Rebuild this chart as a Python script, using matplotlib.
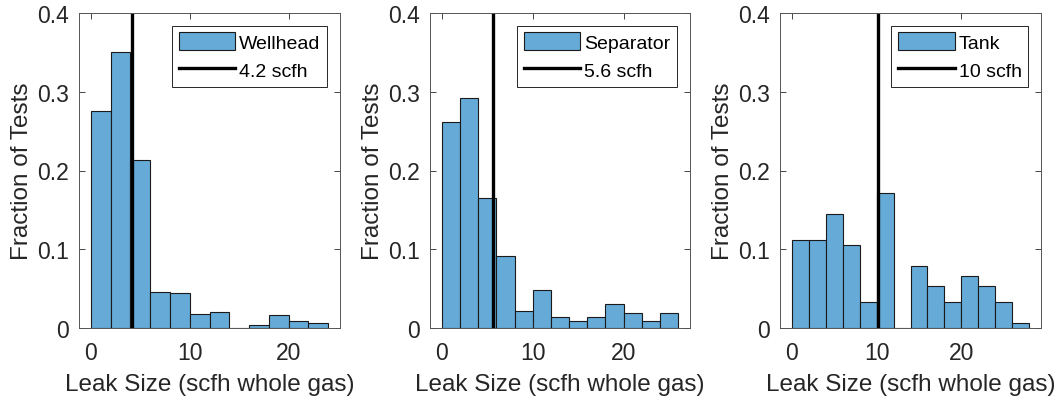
import matplotlib
matplotlib.use('Agg')
import matplotlib.pyplot as plt
import numpy as np
from matplotlib.ticker import FuncFormatter

plt.rcParams['font.family'] = ['Liberation Sans', 'DejaVu Sans']

# histogram data (fraction of tests per 2 scfh bin, edges start at 0)
bin_width = 2
wellhead = [0.275, 0.351, 0.213, 0.046, 0.044, 0.018, 0.020, 0.0, 0.0034, 0.016, 0.0085, 0.006]
separator = [0.262, 0.2925, 0.1655, 0.092, 0.022, 0.048, 0.0144, 0.0093, 0.0144, 0.030, 0.019, 0.0093, 0.019]
tank = [0.1117, 0.1117, 0.1443, 0.105, 0.0326, 0.171, 0.0, 0.0787, 0.0529, 0.0326, 0.0656, 0.0529, 0.0326, 0.0068]

names = ['Wellhead', 'Separator', 'Tank']
thresholds = [4.2, 5.6, 10.2]
threshold_labels = ['4.2 scfh', '5.6 scfh', '10 scfh']
all_data = [wellhead, separator, tank]

bar_color = '#66aad7'
text_color = '#262626'

fig = plt.figure(figsize=(10.6, 4.02), dpi=100)
lefts = [79, 430, 780]
rights = [340, 690, 1041]

for i in range(3):
    l = lefts[i] / 1060
    w = (rights[i] - lefts[i]) / 1060
    ax = fig.add_axes([l, (402 - 329) / 402, w, (329 - 14) / 402])
    vals = np.array(all_data[i])
    edges = np.arange(len(vals)) * bin_width
    bars = ax.bar(edges, vals, width=bin_width, align='edge', color=bar_color,
                  edgecolor='#1a1a1a', linewidth=0.8)
    line = ax.axvline(thresholds[i], color='black', linewidth=2.4)

    ax.set_ylim(0, 0.4)
    ax.set_yticks([0, 0.1, 0.2, 0.3, 0.4])
    ax.set_xticks([0, 10, 20])
    ax.yaxis.set_major_formatter(FuncFormatter(lambda v, p: '%g' % round(v, 2)))
    ax.tick_params(direction='in', top=True, right=True, labelsize=16.5,
                   colors=text_color, length=4, width=0.6)
    ax.tick_params(axis='x', pad=9.5)
    ax.tick_params(axis='y', pad=7)
    for s in ax.spines.values():
        s.set_color('#555555')
        s.set_linewidth(0.7)
    ax.set_xlabel('Leak Size (scfh whole gas)', fontsize=17.5, color=text_color, labelpad=6.5)
    ax.set_ylabel('Fraction of Tests', fontsize=17.5, color=text_color, labelpad=3.5)

    leg = ax.legend([bars, line], [names[i], threshold_labels[i]], loc='upper right',
                    fontsize=14, fancybox=False, framealpha=1,
                    handlelength=2.9, handleheight=1.0, borderaxespad=0.65,
                    borderpad=0.35, labelspacing=0.45, handletextpad=0.2)
    leg.get_frame().set_edgecolor('#262626')
    leg.get_frame().set_linewidth(0.7)

fig.savefig('out.png', dpi=100)
